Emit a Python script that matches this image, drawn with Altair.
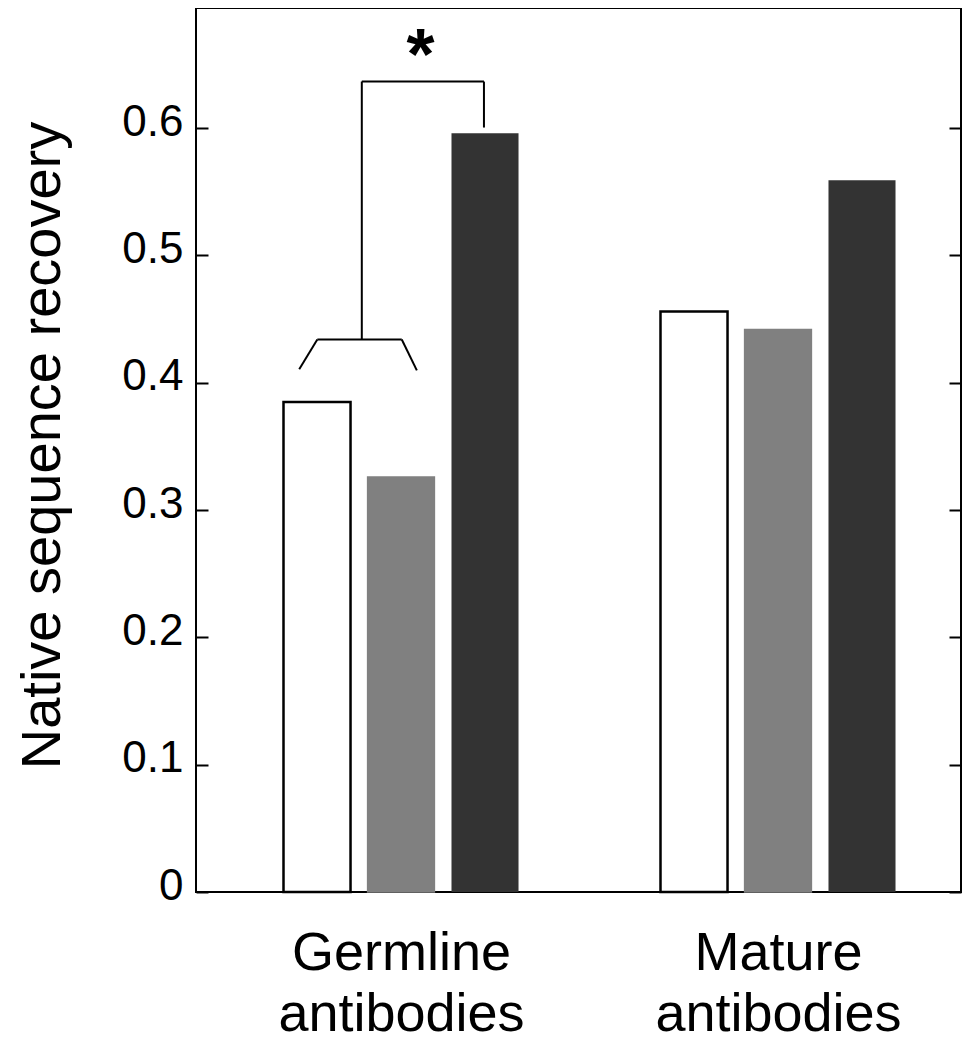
import json
import altair as alt
import pandas as pd

# ---------------- data ----------------
groups = ["Germline antibodies", "Mature antibodies"]
series = ["Method 1", "Method 2", "Method 3"]
series_1 = [0.385, 0.456]
series_2 = [0.326, 0.442]
series_3 = [0.596, 0.559]
y_ticks = [0, 0.1, 0.2, 0.3, 0.4, 0.5, 0.6]

# significance bracket (x in group units, y in recovery units)
br_x = [-0.104, 0.22, -0.104, -0.222, -0.222, 0.002]
br_x2 = [0.22, 0.22, -0.104, 0.002, -0.27, 0.042]
br_y = [0.6366, 0.6366, 0.6366, 0.434, 0.434, 0.434]
br_y2 = [0.6366, 0.6005, 0.434, 0.434, 0.4107, 0.4097]
star_x = [0.052]
star_y = [0.639]
star_text = ["*"]

# ---------------- layout constants ----------------
FONT = "Liberation Sans"
STEP = 0.2228
HALF = 0.0889
XDOM = [-0.5438, 1.4854]
YDOM = [0, 0.6944]

rows = []
for gi, g in enumerate(groups):
    for si, (s, vals) in enumerate(zip(series, [series_1, series_2, series_3])):
        rows.append({"group": g, "gi": gi, "series": s, "si": si, "value": vals[gi]})
df = pd.DataFrame(rows)

br_df = pd.DataFrame({"x": br_x, "x2": br_x2, "y": br_y, "y2": br_y2})
star_df = pd.DataFrame({"x": star_x, "y": star_y, "t": star_text})

xscale = alt.Scale(domain=XDOM, nice=False, zero=False)
yscale = alt.Scale(domain=YDOM, nice=False, zero=True)

groups_js = json.dumps(groups)

x_axis = alt.Axis(
    values=[0, 1],
    labelExpr=f"split({groups_js}[datum.value], ' ')",
    ticks=False, tickSize=0, domain=False, grid=False,
    labelFont=FONT, labelFontSize=54, labelLineHeight=61, labelLimit=0,
    labelPadding=77, labelBaseline="alphabetic", labelAlign="center",
    labelColor="black", labelFlush=False, labelOverlap=False, title=None,
)

left_axis = alt.Axis(
    orient="left", values=y_ticks, format=".1~f",
    offset=-12, tickSize=12, tickWidth=2, tickColor="black",
    domain=False, grid=False,
    labelFont=FONT, labelFontSize=44, labelPadding=13, labelColor="black",
    labelBaseline="middle", labelOffset=-6,
    title="Native sequence recovery", titleFont=FONT, titleFontSize=56,
    titleFontWeight="normal", titleColor="black", titleX=-149, titleY=437,
    titleAngle=270, titleBaseline="alphabetic", titleAlign="center",
    titleLimit=0,
)

right_axis = alt.Axis(
    orient="right", values=y_ticks, offset=-12, tickSize=12, tickWidth=2,
    tickColor="black", labels=False, domain=False, grid=False, title=None,
)

bars = (
    alt.Chart(df)
    .transform_calculate(pos=f"datum.gi + (datum.si - 1) * {STEP}")
    .transform_calculate(xa=f"datum.pos - {HALF}", xb=f"datum.pos + {HALF}")
    .mark_bar()
    .encode(
        x=alt.X("xa:Q", scale=xscale, axis=x_axis),
        x2="xb:Q",
        y=alt.Y("value:Q", scale=yscale, axis=left_axis),
        y2=alt.datum(0),
        fill=alt.Fill("series:N", scale=alt.Scale(domain=series, range=["white", "#808080", "#333333"]), legend=None),
        stroke=alt.Stroke("series:N", scale=alt.Scale(domain=series, range=["black", "#808080", "#1e1e1e"]), legend=None),
        strokeWidth=alt.StrokeWidth("series:N", scale=alt.Scale(domain=series, range=[2.5, 0.01, 1]), legend=None),
    )
)

bracket = (
    alt.Chart(br_df)
    .mark_rule(color="black", strokeWidth=2)
    .encode(
        x=alt.X("x:Q", scale=xscale, axis=x_axis),
        x2="x2:Q",
        y=alt.Y("y:Q", scale=yscale, axis=right_axis),
        y2="y2:Q",
    )
)

star = (
    alt.Chart(star_df)
    .mark_text(font=FONT, fontSize=72, fontWeight="bold", baseline="alphabetic", align="center", color="black")
    .encode(
        x=alt.X("x:Q", scale=xscale, axis=x_axis),
        y=alt.Y("y:Q", scale=yscale, axis=None),
        text="t:N",
    )
)

chart = (
    alt.layer(bars, bracket, star)
    .resolve_axis(y="independent")
    .properties(
        width=765, height=884,
        autosize=alt.AutoSizeParams(type="none"),
        padding={"left": 188, "top": 0, "right": 1, "bottom": 150},
    )
    .configure_view(stroke="black", strokeWidth=2)
)

chart.save("out.html", embed_options={"renderer": "svg", "actions": False})
